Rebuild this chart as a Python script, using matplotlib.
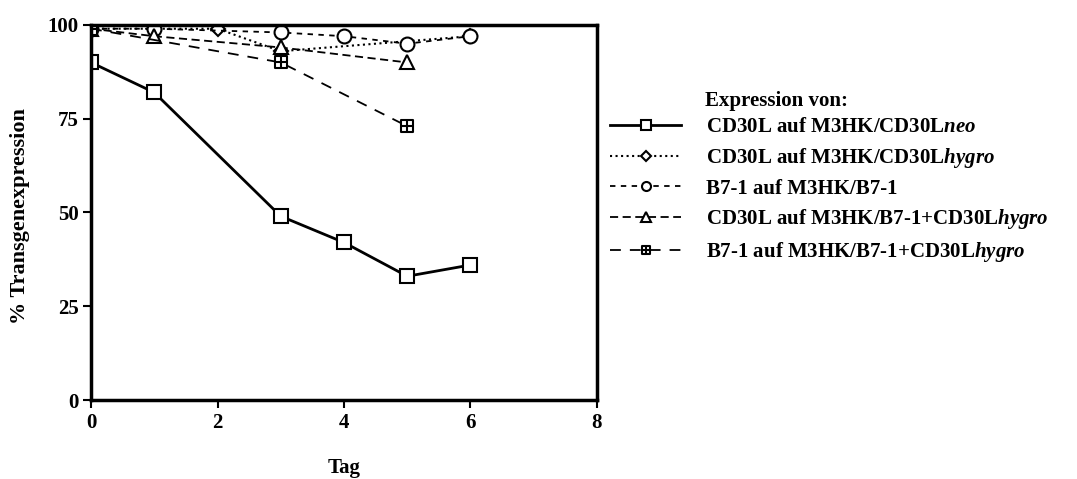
import numpy as np
import matplotlib
matplotlib.use("Agg")
import matplotlib.pyplot as plt
from matplotlib.path import Path

plt.rcParams['font.family'] = ['Liberation Serif', 'DejaVu Serif']
plt.rcParams['font.weight'] = 'bold'
plt.rcParams['mathtext.fontset'] = 'custom'
plt.rcParams['mathtext.it'] = 'Liberation Serif:italic:bold'
plt.rcParams['mathtext.rm'] = 'Liberation Serif:bold'

# days and % expression per construct
days_neo = [0, 1, 3, 4, 5, 6]
cd30l_neo = [90, 82, 49, 42, 33, 36]

days_hygro = [0, 1, 2, 3, 6]
cd30l_hygro = [99, 99, 99, 93, 97]

days_b71 = [0, 1, 3, 4, 5, 6]
b71 = [99, 99, 98, 97, 95, 97]

days_dual_cd30l = [0, 1, 3, 5]
dual_cd30l = [99, 97, 94, 90]

days_dual_b71 = [0, 3, 5]
dual_b71 = [99, 90, 73]

labels = [
    r"CD30L auf M3HK/CD30L$\it{neo}$",
    r"CD30L auf M3HK/CD30L$\it{hygro}$",
    "B7-1 auf M3HK/B7-1",
    r"CD30L auf M3HK/B7-1+CD30L$\it{hygro}$",
    r"B7-1 auf M3HK/B7-1+CD30L$\it{hygro}$",
]

# square with a cross inside
boxcross = Path(
    [(-1, -1), (1, -1), (1, 1), (-1, 1), (-1, -1),
     (0, -1), (0, 1), (-1, 0), (1, 0)],
    [Path.MOVETO, Path.LINETO, Path.LINETO, Path.LINETO, Path.CLOSEPOLY,
     Path.MOVETO, Path.LINETO, Path.MOVETO, Path.LINETO],
)

fig = plt.figure(figsize=(10.77, 4.79), dpi=100)
ax = fig.add_axes([0.0845, 0.1649, 0.4698, 0.783])

common = dict(color='black', markerfacecolor='white', markeredgecolor='black',
              markeredgewidth=1.5)
ax.plot(days_neo, cd30l_neo, '-', marker='s', markersize=10, lw=2, label=labels[0], **common)
ax.plot(days_hygro, cd30l_hygro, ':', marker='D', markersize=7.5, lw=1.5, label=labels[1], **common)
ax.plot(days_b71, b71, marker='o', markersize=10, lw=1.3, dashes=(3, 3), label=labels[2], **common)
ax.plot(days_dual_cd30l, dual_cd30l, marker='^', markersize=10, lw=1.3, dashes=(4.5, 2.5), label=labels[3], **common)
ax.plot(days_dual_b71, dual_b71, marker=boxcross, markersize=9, lw=1.3, dashes=(6, 5), label=labels[4], **common)

ax.set_xlim(0, 8)
ax.set_ylim(0, 100)
ax.set_xticks([0, 2, 4, 6, 8])
ax.set_yticks([0, 25, 50, 75, 100])
ax.tick_params(direction='out', length=6, width=1.5, labelsize=15, pad=3)
for s in ax.spines.values():
    s.set_linewidth(2.5)
for t in ax.get_xticklabels() + ax.get_yticklabels():
    t.set_fontweight('bold')

ax.set_xlabel("Tag", fontsize=15, fontweight='bold')
ax.xaxis.set_label_coords(0.5, -0.155)
ax.set_ylabel("% Transgenexpression", fontsize=16, fontweight='bold')
ax.yaxis.set_label_coords(-0.12, 0.49)

fig.text(0.6546, 0.789, "Expression von:", fontsize=15, fontweight='bold', va='center')
fig.legend(loc='upper left', bbox_to_anchor=(0.559, 0.773), frameon=False,
           handlelength=3.4, handletextpad=1.2, labelspacing=0.42,
           borderaxespad=0, markerscale=0.65,
           prop={'weight': 'bold', 'size': 15})

fig.savefig("out.png", dpi=100)
